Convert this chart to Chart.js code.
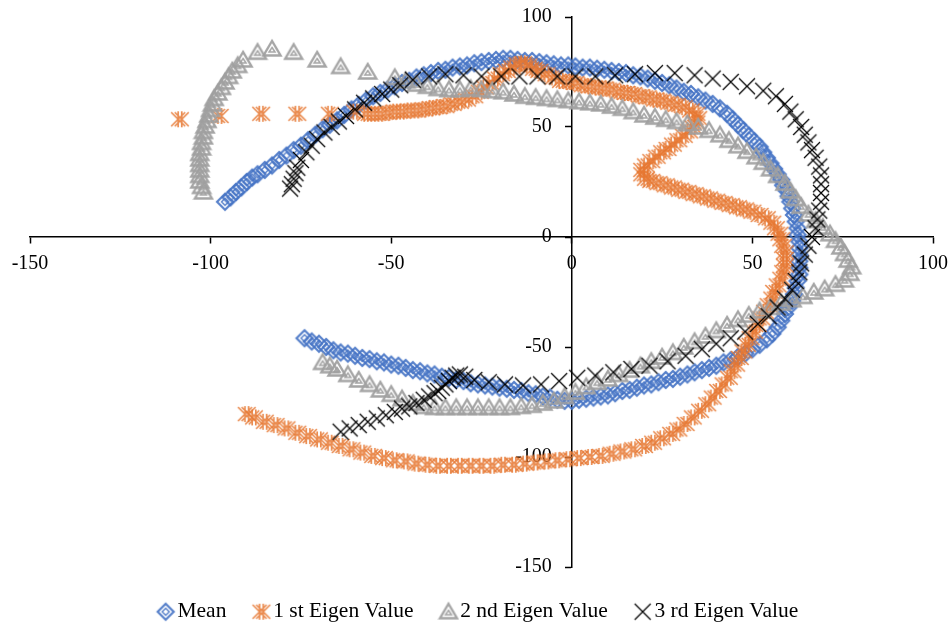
<!DOCTYPE html>
<html>
<head>
<meta charset="utf-8">
<script src="https://cdn.jsdelivr.net/npm/chart.js@4.4.1/dist/chart.umd.min.js"></script>
<style>
  html, body { margin: 0; padding: 0; background: #fff; }
  #wrap { width: 951px; height: 625px; }
</style>
</head>
<body>
<div id="wrap"><canvas id="eigenChart"></canvas></div>
<script>
const seriesNames = ["Mean", "1 st Eigen Value", "2 nd Eigen Value", "3 rd Eigen Value"];
const xTicks = [-150, -100, -50, 0, 50, 100];
const yTicks = [-150, -100, -50, 0, 50, 100];

// [x, y] pairs
const meanPts = [
  [-96, 16], [-94.5, 18], [-93, 20.5], [-91.5, 22.5], [-90, 25], [-88.5, 27], [-87, 28.5], [-85, 30.5], [-83, 32.5], [-81, 35],
  [-79, 37], [-77, 39.5], [-75, 41.5], [-73, 44], [-71, 46.5], [-69, 49], [-67, 51], [-65, 53], [-63, 55.5], [-61, 58],
  [-59, 60], [-57, 62], [-55, 64], [-53, 65.5], [-51, 67], [-49, 68.5], [-47, 70], [-45, 71], [-43, 72.5], [-41, 73.5],
  [-39, 74.5], [-37, 75.5], [-35, 76], [-33, 77], [-31, 77.5], [-29, 78], [-27, 79], [-25, 79.5], [-23, 80], [-21, 80.5],
  [-19, 81], [-17, 81], [-15, 80.5], [-13, 80], [-11, 80], [-9, 79.5], [-7, 79], [-5, 78.5], [-3, 78], [-1, 78],
  [1, 77.5], [3, 77], [5, 77], [7, 76.5], [9, 76], [11, 75.5], [13, 75], [15, 74.5], [17, 73.5], [19, 73],
  [21, 72], [23, 71], [25, 70], [27, 69], [29, 67.5], [31, 66], [33, 65], [35, 63.5], [37, 62], [39, 60.5],
  [41, 58.5], [43, 56], [44.5, 53.5], [46, 51], [47.5, 48.5], [49, 46], [50.5, 43.5], [52, 41], [53, 38.5], [54, 36],
  [55, 33.5], [56, 31], [57, 28.5], [58, 26], [58.5, 23.5], [59.5, 21], [60, 18.5], [60.5, 16], [61, 13], [61.5, 10],
  [62, 7], [62.5, 4], [62.5, 1], [63, -2], [63, -5], [63, -8], [63, -11], [63, -14], [63, -17], [62.5, -20],
  [62, -23], [61.5, -26], [61, -29], [60, -32], [59, -35], [58, -38], [57, -41], [55.5, -44], [54, -46.5], [52, -49],
  [50, -51], [48, -53], [46, -54.5], [44, -56], [42, -57], [40, -58.5], [38, -59.5], [36, -60.5], [34, -61.5], [32, -62.5],
  [30, -63.5], [28, -64.5], [26, -65], [24, -66], [22, -67], [20, -67.5], [18, -68.5], [16, -69.5], [14, -70], [12, -71],
  [10, -72], [8, -72.5], [6, -73], [4, -73.5], [2, -74], [0, -74.5], [-2, -74.5], [-4, -74], [-6, -73], [-8, -72.5],
  [-10, -71.5], [-12, -71], [-14, -70], [-16, -69.5], [-18, -69], [-20, -68.5], [-22, -68], [-24, -67.5], [-26, -67], [-28, -66.5],
  [-30, -65.5], [-32, -65], [-34, -64], [-36, -63.5], [-38, -62.5], [-40, -62], [-42, -61], [-44, -60.5], [-46, -59.5], [-48, -58.5],
  [-50, -58], [-52, -57], [-54, -56.5], [-56, -55.5], [-58, -55], [-60, -54], [-62, -53], [-64, -52.5], [-66, -51.5], [-68, -50],
  [-70, -48.5], [-72, -47.5], [-74, -46]
];

const eig1Pts = [
  [-108.5, 53.5], [-97.5, 55], [-86, 56], [-76, 56], [-67, 56], [-60, 57], [-57, 56], [-55, 56], [-53, 56], [-51, 56.5],
  [-49, 57], [-47, 57], [-45, 57.5], [-43, 57.5], [-41, 58], [-39, 58.5], [-37, 59], [-35, 59.5], [-33, 60.5], [-31, 61.5],
  [-29, 62.5], [-27, 64], [-25.5, 66], [-24, 68], [-22.5, 70], [-21, 72], [-19.5, 74], [-18, 75.5], [-16.5, 77], [-15, 78.5],
  [-13.5, 79], [-12, 78], [-10.5, 76.5], [-9, 75.5], [-7, 74], [-5, 72.5], [-3, 71], [-1, 70.5], [1, 70], [3, 69],
  [5, 68.5], [7, 68], [9, 67.5], [11, 67], [13, 66], [15, 65.5], [17, 65], [19, 64], [21, 63.5], [23, 62.5],
  [25, 62], [27, 61], [29, 60], [31, 59], [33, 57.5], [34.5, 56], [35, 54], [34.5, 52], [33.5, 50], [32.5, 48],
  [31, 46], [29.5, 44], [28, 42], [26.5, 40], [25, 38.5], [23.5, 36.5], [22, 34.5], [20.5, 32.5], [19.5, 30.5], [19.5, 28.5],
  [20.5, 26.5], [22, 25.5], [24, 24.5], [26, 23.5], [28, 22.5], [30, 21.5], [32, 20.5], [34, 19.5], [36, 18.5], [38, 17.5],
  [40, 16.5], [42, 15.5], [44, 14.5], [46, 13.5], [48, 12.5], [50, 11.5], [52, 10], [54, 8.5], [55.5, 6.5], [56.5, 4],
  [57.5, 1.5], [58, -1], [58.5, -4], [59, -7], [59, -10], [59, -13], [58.5, -16], [58, -19], [57, -22], [56, -25],
  [55.5, -28], [54.5, -31], [53.5, -34], [52.5, -37], [51.5, -40], [50.5, -43], [49.5, -46], [48.5, -49], [47.5, -52], [46.5, -55],
  [45.5, -58], [44.5, -61], [43.5, -64], [42, -67], [40.5, -70], [39, -73], [37.5, -76], [35.5, -79], [33.5, -82], [31.5, -85],
  [29.5, -87.5], [27.5, -89.5], [25, -91.5], [22.5, -93.5], [20, -95], [17, -96.5], [14, -97.5], [11, -98.5], [8, -99.5], [5, -100],
  [2, -100.5], [-1, -101], [-4, -101.5], [-7, -102], [-10, -102.5], [-13, -103], [-16, -103.5], [-19, -103.5], [-22, -104], [-25, -104],
  [-28, -104], [-31, -104], [-34, -104], [-37, -104], [-40, -103.5], [-43, -103], [-46, -102], [-49, -101.5], [-52, -100.5], [-55, -99.5],
  [-58, -98], [-61, -96.5], [-64, -95], [-67, -93.5], [-70, -92], [-73, -90.5], [-76, -89], [-79, -87], [-82, -85.5], [-85, -84],
  [-88, -82], [-90, -80.5]
];

const eig2Pts = [
  [-102, 20.5], [-102.5, 23], [-103, 25.5], [-103, 28], [-103, 30.5], [-103, 33], [-103, 35.5], [-103, 38], [-102.5, 40.5], [-102.5, 43],
  [-102, 45.5], [-102, 48], [-101.5, 50.5], [-101, 53], [-100.5, 55.5], [-100, 58], [-99.5, 60.5], [-99, 63], [-98, 65.5], [-97, 68],
  [-96, 70.5], [-95, 73], [-94, 75.5], [-92.5, 78], [-91, 80.5], [-87, 84], [-83, 85.5], [-77, 84], [-70.5, 80.5], [-64, 77.5],
  [-56.5, 75], [-49, 72.5], [-46, 71], [-43, 69.5], [-40, 68.5], [-37, 67.5], [-34, 67], [-31, 67], [-28, 67.5], [-25, 67],
  [-22, 66.5], [-19, 66], [-16, 65], [-13, 64], [-10, 63.5], [-7, 63], [-4, 62.5], [-1, 62], [2, 61.5], [5, 61],
  [8, 60.5], [11, 59.5], [14, 58.5], [17, 57], [20, 55.5], [23, 54.5], [26, 53.5], [29, 52.5], [32, 51.5], [35, 50],
  [38, 48.5], [41, 46.5], [43.5, 44], [46, 41.5], [48.5, 39], [51, 36.5], [53, 34], [55, 31], [57, 28], [59, 24.5],
  [60.5, 21], [62, 17.5], [63.5, 14], [65.5, 10.5], [67.5, 7.5], [69.5, 4.5], [71.5, 1.5], [73, -1.5], [74.5, -4.5], [75.5, -7.5],
  [76.5, -10.5], [77.5, -13.5], [77, -16.5], [75.5, -19.5], [73, -21.5], [70, -23.5], [67, -25], [64, -27], [61, -28.5], [58, -30],
  [55, -32], [52, -33.5], [49, -35.5], [46, -37.5], [43, -40], [40, -42.5], [37, -45], [34, -47.5], [31, -50], [28, -52.5],
  [25, -54.5], [22, -56.5], [19, -58.5], [16, -60.5], [13, -62.5], [10, -64.5], [7, -66], [4, -68], [1, -70.5], [-2, -72.5],
  [-5, -74.5], [-8, -75.5], [-11, -76.5], [-14, -77], [-17, -77.5], [-20, -77.5], [-23, -77.5], [-26, -77.5], [-29, -77.5], [-32, -77.5],
  [-35, -77.5], [-38, -77.5], [-41, -77], [-44, -75.5], [-47, -73.5], [-50, -71.5], [-53, -69.5], [-56, -67], [-59, -65], [-62, -62.5],
  [-65, -60], [-67, -58.5], [-69, -57]
];

const eig3Pts = [
  [-78, 22], [-77.5, 24], [-77, 26.5], [-76.5, 29], [-76, 31.5], [-75, 35], [-73.5, 38.5], [-72, 41.5], [-70.5, 44.5], [-68.5, 47.5],
  [-66.5, 50], [-64.5, 52.5], [-62.5, 55], [-60, 58], [-57.5, 61], [-55, 63], [-52.5, 65], [-50, 67], [-47.5, 69], [-44, 71.5],
  [-39.5, 73], [-35, 74], [-30, 73.5], [-25, 73], [-19.5, 73], [-14.5, 73], [-9.5, 73], [-4, 73], [1, 73], [6.5, 73],
  [12, 73.5], [17.5, 74], [23, 74.5], [28.5, 74.5], [34, 73.5], [39, 72], [44, 70.5], [48.5, 68.5], [53, 66.5], [56.5, 64],
  [59, 60.5], [60.5, 57], [62, 53.5], [63.5, 50], [64.5, 46.5], [65.5, 43], [66.5, 39.5], [67.5, 36], [68.5, 32], [69, 28],
  [69, 24], [69, 20], [69, 16], [68.5, 12], [68, 8], [67.5, 4], [66.5, 0], [65.5, -4], [64.5, -8], [63.5, -12],
  [63, -16], [62, -20], [61, -24], [59, -28], [57, -32], [54.5, -36], [51.5, -39.5], [48, -43], [44, -46], [40, -48.5],
  [36, -51], [31.5, -54], [26.5, -56.5], [21.5, -58.5], [16.5, -60], [11.5, -61.5], [6.5, -63], [1.5, -64], [-3.5, -65.5], [-8.5, -67],
  [-13.5, -67.5], [-18.5, -67], [-23, -66], [-27, -65], [-29.5, -63.5], [-31, -62.5], [-32, -63], [-33, -64], [-34, -65.5], [-35, -67],
  [-36, -68.5], [-37, -70], [-38, -71], [-39.5, -72.5], [-41, -74], [-43, -75.5], [-45, -77], [-47, -78], [-49, -79.5], [-51.5, -81],
  [-54, -82.5], [-56.5, -84], [-59, -85.5], [-61.5, -87], [-64, -88.5]
];

const FONT = "'Liberation Serif', 'Times New Roman', serif";

function toPoints(pts) {
  return pts.map((p) => ({ x: p[0], y: p[1] }));
}

// little canvases that look like the Excel markers
function makeMarker(kind) {
  const c = document.createElement("canvas");
  c.width = 22;
  c.height = 22;
  const g = c.getContext("2d");
  g.translate(11, 11);
  g.lineJoin = "miter";
  if (kind === "diamond") {
    g.strokeStyle = "rgba(68,114,196,0.9)";
    g.lineWidth = 2.2;
    g.beginPath();
    g.moveTo(0, -8); g.lineTo(8, 0); g.lineTo(0, 8); g.lineTo(-8, 0); g.closePath();
    g.stroke();
    g.lineWidth = 1.4;
    g.beginPath();
    g.moveTo(0, -3.5); g.lineTo(3.5, 0); g.lineTo(0, 3.5); g.lineTo(-3.5, 0); g.closePath();
    g.stroke();
  } else if (kind === "star") {
    g.strokeStyle = "rgba(230,120,50,0.85)";
    g.lineWidth = 1.7;
    g.beginPath();
    [-1.8, 1.8].forEach((d) => {
      g.moveTo(-7 + d, -7); g.lineTo(7 + d, 7);
      g.moveTo(-7 + d, 7); g.lineTo(7 + d, -7);
      g.moveTo(d, -8); g.lineTo(d, 8);
    });
    g.stroke();
  } else if (kind === "triangle") {
    g.strokeStyle = "rgba(160,160,160,0.95)";
    g.lineWidth = 2.4;
    g.beginPath();
    g.moveTo(0, -8); g.lineTo(8.5, 6.5); g.lineTo(-8.5, 6.5); g.closePath();
    g.stroke();
    g.lineWidth = 1.5;
    g.beginPath();
    g.moveTo(0, -1.5); g.lineTo(3, 3); g.lineTo(-3, 3); g.closePath();
    g.stroke();
  } else {
    g.strokeStyle = "#000";
    g.lineWidth = 1.2;
    g.beginPath();
    g.moveTo(-8, -8); g.lineTo(8, 8);
    g.moveTo(-8, 8); g.lineTo(8, -8);
    g.stroke();
  }
  return c;
}

const markers = [makeMarker("diamond"), makeMarker("star"), makeMarker("triangle"), makeMarker("cross")];
const allData = [toPoints(meanPts), toPoints(eig1Pts), toPoints(eig2Pts), toPoints(eig3Pts)];
const strokeColors = ["#4472C4", "#ED7D31", "#A5A5A5", "#000000"];

const datasets = seriesNames.map((name, i) => ({
  label: name,
  data: allData[i],
  pointStyle: markers[i],
  borderColor: strokeColors[i],
  backgroundColor: strokeColors[i],
  showLine: false,
  order: 4 - i,
}));

function axisOptions(isX) {
  const ticks = isX ? xTicks : yTicks;
  return {
    type: "linear",
    min: ticks[0],
    max: ticks[ticks.length - 1],
    position: isX ? { y: 0 } : { x: 0 },
    afterBuildTicks: (scale) => {
      scale.ticks = ticks.map((v) => ({ value: v }));
    },
    afterFit: (scale) => {
      // axes sit inside the plot, so they should not eat any layout space
      if (isX) scale.height = 0;
      else scale.width = 0;
      scale.paddingTop = 0;
      scale.paddingBottom = 0;
      scale.paddingLeft = 0;
      scale.paddingRight = 0;
    },
    ticks: {
      color: "#000",
      font: { family: FONT, size: 20 },
      padding: 9,
      maxRotation: 0,
      autoSkip: false,
      // centred y axis labels sit flush on the line, push them left a bit
      callback: (v) => (isX ? String(v) : v + "    "),
    },
    grid: {
      drawOnChartArea: false,
      drawTicks: true,
      tickLength: 6,
      tickWidth: 1.5,
      color: "#000",
    },
    border: { display: true, color: "#000", width: 1.5 },
  };
}

const ctx = document.getElementById("eigenChart").getContext("2d");
const chart = new Chart(ctx, {
  type: "scatter",
  data: { datasets: datasets },
  options: {
    responsive: true,
    maintainAspectRatio: false,
    animation: false,
    layout: { padding: { left: 30, right: 18, top: 17, bottom: 0 } },
    scales: { x: axisOptions(true), y: axisOptions(false) },
    plugins: {
      tooltip: { enabled: false },
      legend: {
        position: "bottom",
        maxHeight: 58,
        labels: {
          usePointStyle: true,
          pointStyleWidth: 2,
          padding: 34,
          color: "#000",
          font: { family: FONT, size: 21.5 },
          sort: (a, b) => a.datasetIndex - b.datasetIndex,
        },
      },
    },
  },
});
</script>
</body>
</html>
